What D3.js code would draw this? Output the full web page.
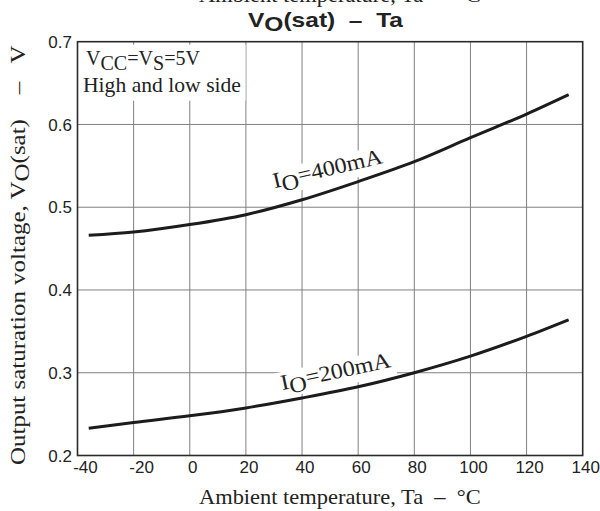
<!DOCTYPE html>
<html>
<head>
<meta charset="utf-8">
<script src="https://cdn.jsdelivr.net/npm/d3@7/dist/d3.min.js"></script>
<style>
  body { margin: 0; background: #fff; }
  svg { display: block; }
  .serif { font-family: "Liberation Serif", "Times New Roman", serif; fill: #222; white-space: pre; }
  .sans { font-family: "Liberation Sans", Arial, sans-serif; fill: #222; }
  .grid line { stroke: #808080; stroke-width: 1; }
  .frame { fill: none; stroke: #2a2a2a; stroke-width: 1.6; }
  .curve { fill: none; stroke: #1c1c1c; stroke-width: 3; }
</style>
</head>
<body>
<svg id="chart" width="600" height="511"></svg>
<script>
  // values
  const tempC = [-36, -20, 0, 20, 40, 60, 80, 100, 120, 135];
  const vo400 = [0.466, 0.470, 0.479, 0.491, 0.509, 0.531, 0.555, 0.584, 0.6125, 0.636];
  const vo200 = [0.233, 0.240, 0.248, 0.2575, 0.2695, 0.283, 0.300, 0.320, 0.344, 0.364];
  const xTicks = [-40, -20, 0, 20, 40, 60, 80, 100, 120, 140];
  const yTicks = [0.2, 0.3, 0.4, 0.5, 0.6, 0.7];

  const width = 600, height = 511;
  const margin = {top: 41.7, right: 17.3, bottom: 55.5, left: 77.5};
  const svg = d3.select('#chart');

  const x = d3.scaleLinear().domain([-40, 140]).range([margin.left, width - margin.right]);
  const y = d3.scaleLinear().domain([0.2, 0.7]).range([height - margin.bottom, margin.top]);

  // stretch a text horizontally so it spans w pixels (the original lettering is wide)
  function fitWidth(sel, w) {
    const len = sel.node().getComputedTextLength();
    const ax = +sel.attr('x') || 0;
    const k = w / len;
    sel.attr('transform', (sel.attr('transform') || '') + ` translate(${ax},0) scale(${k},1) translate(${-ax},0)`);
  }

  // grid
  const grid = svg.append('g').attr('class', 'grid');
  grid.selectAll('.vx').data(xTicks.slice(1, -1)).join('line')
    .attr('x1', d => x(d)).attr('x2', d => x(d))
    .attr('y1', y(0.2)).attr('y2', y(0.7));
  grid.selectAll('.hy').data(yTicks.slice(1, -1)).join('line')
    .attr('x1', x(-40)).attr('x2', x(140))
    .attr('y1', d => y(d)).attr('y2', d => y(d));

  // upper-left condition note (white box knocks out the grid)
  svg.append('rect').attr('x', x(-40) + 2).attr('y', y(0.7) + 3)
    .attr('width', 166).attr('height', 56).attr('fill', '#fff');
  const note1 = svg.append('text').attr('class', 'serif').attr('x', 86).attr('y', 65)
    .style('font-size', '20px');
  note1.append('tspan').text('V');
  note1.append('tspan').attr('dy', 5).text('CC');
  note1.append('tspan').attr('dy', -5).text('=V');
  note1.append('tspan').attr('dy', 5).text('S');
  note1.append('tspan').attr('dy', -5).text('=5V');
  fitWidth(note1, 114);
  const note2 = svg.append('text').attr('class', 'serif').attr('x', 83).attr('y', 92)
    .style('font-size', '20px').text('High and low side');
  fitWidth(note2, 158);

  // curve labels, drawn under the curves
  function curveLabel(cur, t, v, angle) {
    const g = svg.append('g')
      .attr('transform', `translate(${x(t)},${y(v)}) rotate(${angle})`);
    const bg = g.append('rect').attr('fill', '#fff');
    const txt = g.append('text').attr('class', 'serif').attr('x', 0).attr('y', 0)
      .attr('text-anchor', 'middle').style('font-size', '22px');
    txt.append('tspan').text('I');
    txt.append('tspan').attr('dy', 5).text('O');
    txt.append('tspan').attr('dy', -5).text('=' + cur);
    fitWidth(txt, 112);
    bg.attr('x', -60).attr('y', -18).attr('width', 120).attr('height', 26);
  }
  curveLabel('400mA', 49.6, 0.538, -13);
  curveLabel('200mA', 52.4, 0.293, -12);

  // curves
  const line = d3.line().x(d => x(d[0])).y(d => y(d[1])).curve(d3.curveMonotoneX);
  svg.append('path').datum(d3.zip(tempC, vo400)).attr('class', 'curve').attr('d', line);
  svg.append('path').datum(d3.zip(tempC, vo200)).attr('class', 'curve').attr('d', line);

  // frame
  svg.append('rect').attr('class', 'frame')
    .attr('x', x(-40)).attr('y', y(0.7))
    .attr('width', x(140) - x(-40)).attr('height', y(0.2) - y(0.7));

  // tick labels
  svg.append('g').selectAll('text').data(xTicks).join('text')
    .attr('class', 'sans').attr('text-anchor', 'middle')
    .attr('x', d => x(d) + (d < 0 ? 8 : 3)).attr('y', 472.5)
    .style('font-size', '17px').text(d => d);
  svg.append('g').selectAll('text').data(yTicks).join('text')
    .attr('class', 'sans').attr('text-anchor', 'end')
    .attr('x', 72).attr('y', d => y(d)).attr('dy', '0.36em')
    .style('font-size', '17px').text(d3.format('.1f'));

  // title
  const title = svg.append('text').attr('class', 'sans').attr('x', 248).attr('y', 27)
    .style('font-size', '19.5px').style('font-weight', 'bold').style('white-space', 'pre');
  title.append('tspan').text('V');
  title.append('tspan').attr('dy', 4).text('O');
  title.append('tspan').attr('dy', -4).text('(sat)  –  Ta');
  fitWidth(title, 155);

  // axis titles (the x title also peeks in at the very top, as in the source)
  const xTitle = svg.append('text').attr('class', 'serif').attr('x', 199).attr('y', 504)
    .style('font-size', '21px').text('Ambient temperature, Ta  –  °C');
  fitWidth(xTitle, 282);
  const topTitle = svg.append('text').attr('class', 'serif').attr('x', 199).attr('y', 2)
    .style('font-size', '21px').text('Ambient temperature, Ta  –  °C');
  fitWidth(topTitle, 282);

  const yTitle = svg.append('text').attr('class', 'serif')
    .attr('transform', 'translate(25,465) rotate(-90)')
    .attr('x', 0).attr('y', 0).style('font-size', '21px');
  yTitle.append('tspan').text('Output saturation voltage, V');
  yTitle.append('tspan').attr('dy', 4).text('O');
  yTitle.append('tspan').attr('dy', -4).text('(sat)    –   V');
  fitWidth(yTitle, 420);
</script>
</body>
</html>
